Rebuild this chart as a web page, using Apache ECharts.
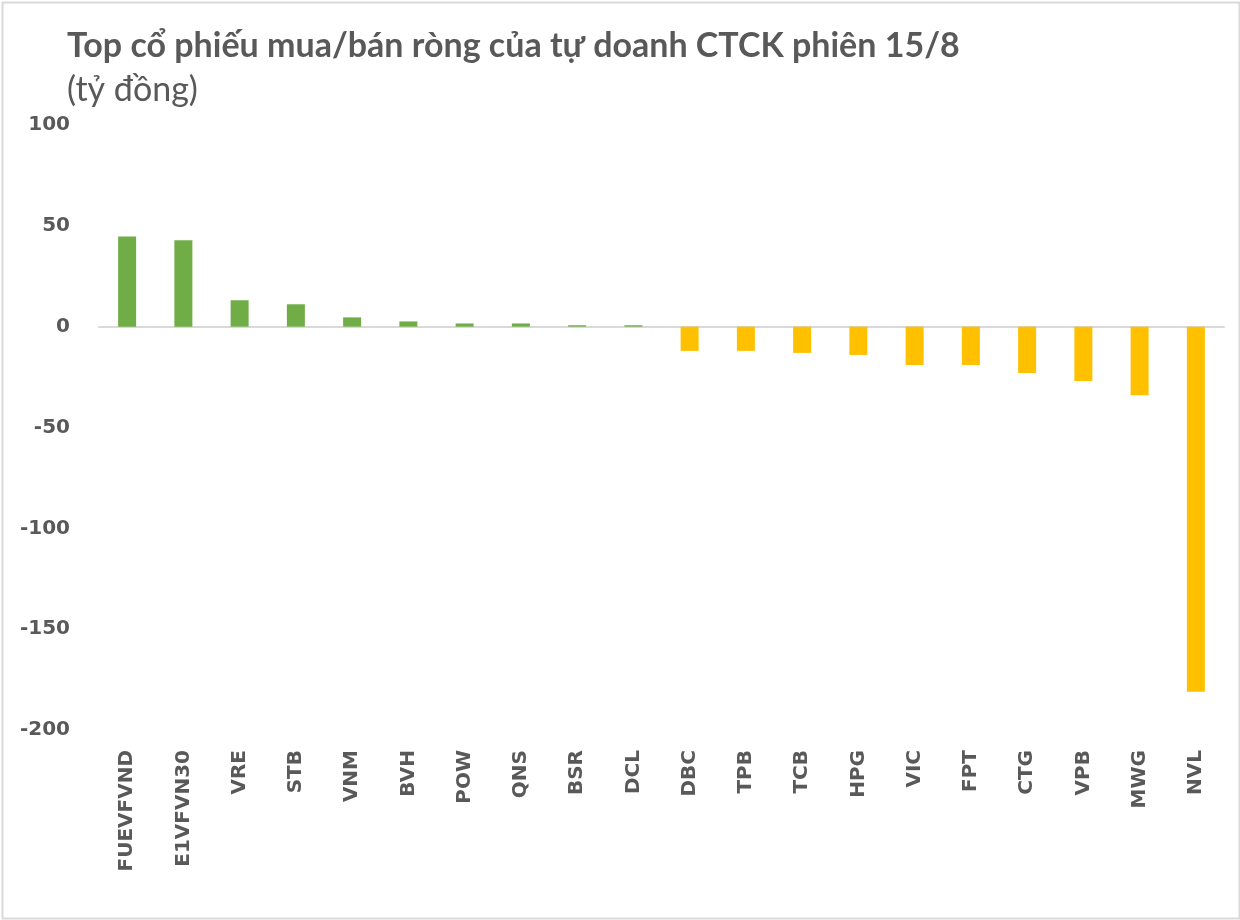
<!DOCTYPE html>
<html>
<head>
<meta charset="utf-8">
<script src="https://cdn.jsdelivr.net/npm/echarts@6/dist/echarts.min.js"></script>
<style>
html,body{margin:0;padding:0;background:#fff;}
#chart{width:1240px;height:920px;}
</style>
</head>
<body>
<div id="chart"></div>
<script>
const categories = ['FUEVFVND','E1VFVN30','VRE','STB','VNM','BVH','POW','QNS','BSR','DCL','DBC','TPB','TCB','HPG','VIC','FPT','CTG','VPB','MWG','NVL'];
const values = [44.7, 42.8, 13.1, 11.1, 4.6, 2.6, 1.6, 1.6, 0.7, 0.7, -12, -12, -13, -14, -19, -19, -23, -27, -34, -181];
const yTicks = { min: -200, max: 100, interval: 50 };
const titleText = 'Top cổ phiếu mua/bán ròng của tự doanh CTCK phiên 15/8';
const subtitleText = '(tỷ đồng)';

const chart = echarts.init(document.getElementById('chart'), null, { renderer: 'canvas' });
chart.setOption({
  backgroundColor: '#ffffff',
  animation: false,
  title: [
    { text: titleText, left: 62, top: 24,
      textStyle: { fontFamily: 'Lato', fontWeight: 'bold', fontSize: 34, color: '#595959' } },
    { text: subtitleText, left: 62, top: 68,
      textStyle: { fontFamily: 'Lato', fontWeight: 'normal', fontSize: 34, color: '#595959' } }
  ],
  graphic: [
    { type: 'rect', left: 0, top: 0, shape: { width: 1237, height: 916 },
      style: { fill: 'none', stroke: '#d9d9d9', lineWidth: 2 }, silent: true }
  ],
  grid: { left: 99, right: 16, top: 125, bottom: 190, containLabel: false },
  xAxis: {
    type: 'category',
    data: categories,
    axisLine: { show: true, onZero: true, lineStyle: { color: '#d9d9d9', width: 2 } },
    axisTick: { show: false },
    axisLabel: {
      interval: 0, rotate: 90, margin: 20,
      fontFamily: 'DejaVu Sans', fontWeight: 'bold', fontSize: 20, color: '#595959'
    },
    position: 'bottom'
  },
  yAxis: {
    type: 'value',
    min: yTicks.min, max: yTicks.max, interval: yTicks.interval,
    axisLine: { show: false },
    axisTick: { show: false },
    splitLine: { show: false },
    axisLabel: { margin: 29, fontFamily: 'DejaVu Sans', fontWeight: 'bold', fontSize: 20, color: '#595959' }
  },
  series: [{
    type: 'bar',
    data: values,
    barWidth: '32%',
    itemStyle: {
      color: function (p) { return p.value >= 0 ? '#70ad47' : '#ffc000'; }
    }
  }]
});
</script>
</body>
</html>
